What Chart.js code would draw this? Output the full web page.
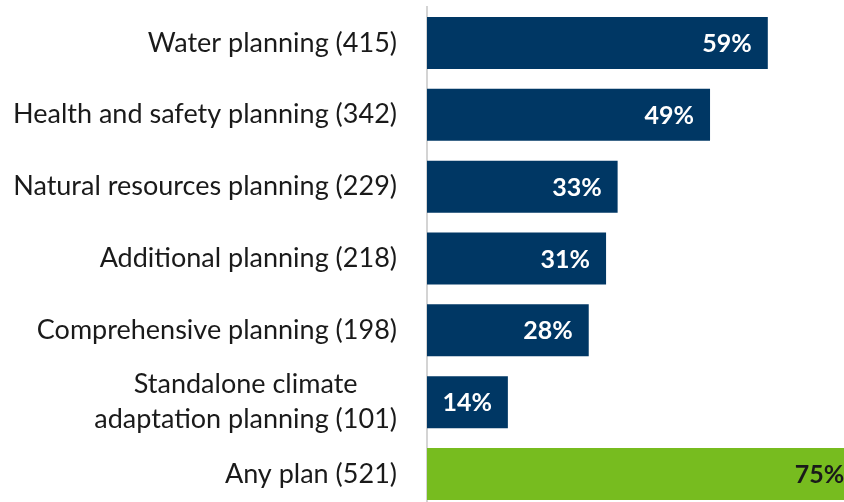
<!DOCTYPE html>
<html>
<head>
<meta charset="utf-8">
<script src="https://cdn.jsdelivr.net/npm/chart.js@4/dist/chart.umd.min.js"></script>
<style>
  html, body { margin: 0; padding: 0; background: #fff; overflow: hidden; }
  #wrap { width: 844px; height: 502px; overflow: hidden; }
  canvas { display: block; }
</style>
</head>
<body>
<div id="wrap"><canvas id="planChart" width="866" height="512"></canvas></div>
<script>
// Share of respondents with each kind of plan (count in brackets)
const categories = [
    'Water planning (415)',
    'Health and safety planning (342)',
    'Natural resources planning (229)',
    'Additional planning (218)',
    'Comprehensive planning (198)',
    ['Standalone climate', 'adaptation planning (101)'],
    'Any plan (521)'
];
const percents = [59, 49, 33, 31, 28, 14, 75];
const barColors = ['#003764', '#003764', '#003764', '#003764', '#003764', '#003764', '#77bc1f'];
const labelColors = ['#ffffff', '#ffffff', '#ffffff', '#ffffff', '#ffffff', '#ffffff', '#1a1a1a'];

const FONT = "Lato, 'Open Sans', sans-serif";
const AXIS_WIDTH = 427;

// Category names left of the axis; wrapped lines centred on each other
const categoryLabels = {
    id: 'categoryLabels',
    afterDraw(chart) {
        const ctx = chart.ctx;
        const yScale = chart.scales.y;
        const right = chart.chartArea.left - 30;
        const lineGap = 35;
        ctx.save();
        ctx.font = '27px ' + FONT;
        ctx.fillStyle = '#1a1a1a';
        ctx.textBaseline = 'middle';
        ctx.textAlign = 'center';
        categories.forEach((label, i) => {
            const lines = Array.isArray(label) ? label : [label];
            const blockW = Math.max(...lines.map(l => ctx.measureText(l).width));
            const cx = right - blockW / 2;
            const cy = yScale.getPixelForTick(i);
            const top = cy - (lines.length - 1) * lineGap / 2;
            lines.forEach((line, j) => ctx.fillText(line, cx, top + j * lineGap));
        });
        ctx.restore();
    }
};

// Percent values written inside the end of each bar
const valueLabels = {
    id: 'valueLabels',
    afterDatasetsDraw(chart) {
        const ctx = chart.ctx;
        const meta = chart.getDatasetMeta(0);
        ctx.save();
        ctx.font = 'bold 25px ' + FONT;
        ctx.textAlign = 'right';
        ctx.textBaseline = 'middle';
        meta.data.forEach((bar, i) => {
            ctx.fillStyle = labelColors[i];
            ctx.fillText(percents[i] + '%', bar.x - 16, bar.y + 1);
        });
        ctx.restore();
    }
};

new Chart(document.getElementById('planChart').getContext('2d'), {
    type: 'bar',
    data: {
        labels: categories,
        datasets: [{
            data: percents,
            backgroundColor: barColors,
            borderWidth: 0,
            categoryPercentage: 1,
            barPercentage: 0.724
        }]
    },
    options: {
        indexAxis: 'y',
        responsive: false,
        animation: false,
        layout: { padding: { top: 7, bottom: 2, left: 0, right: 0 } },
        scales: {
            x: {
                display: false,
                min: 0,
                max: 76
            },
            y: {
                grid: { display: false },
                border: { display: true, color: '#d4d4d4', width: 2 },
                ticks: { display: false },
                afterFit(scale) { scale.width = AXIS_WIDTH; }
            }
        },
        plugins: {
            legend: { display: false },
            tooltip: { enabled: false }
        }
    },
    plugins: [categoryLabels, valueLabels]
});
</script>
</body>
</html>
